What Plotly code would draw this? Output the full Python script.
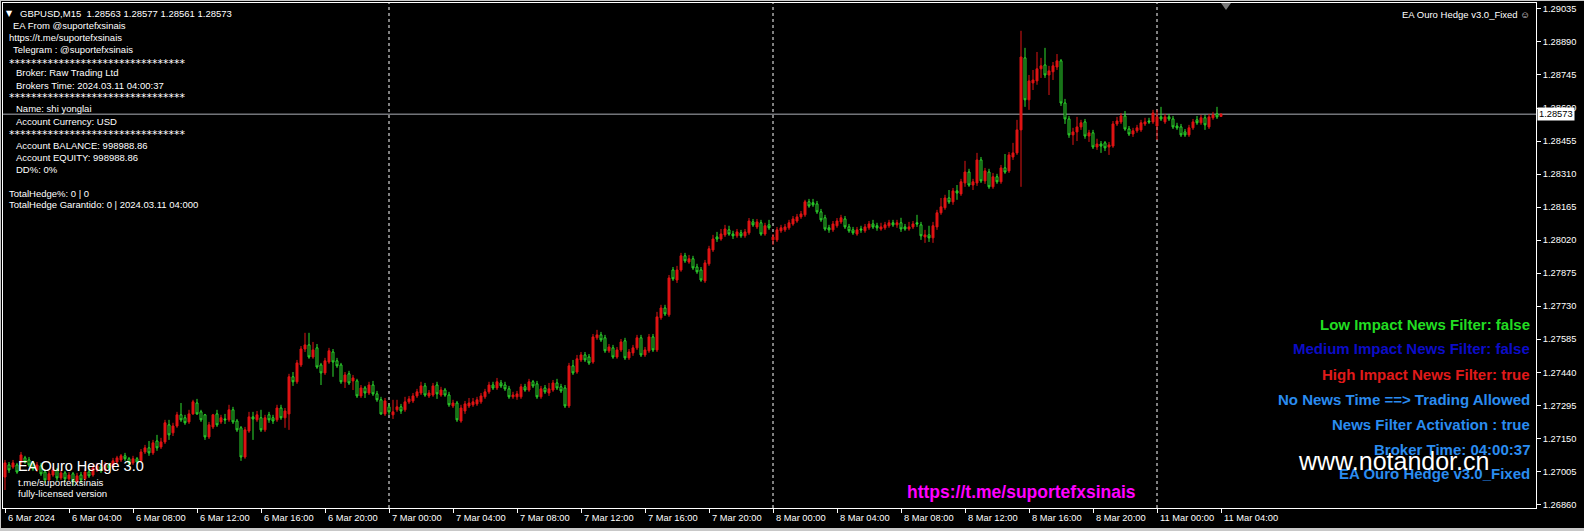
import plotly.graph_objects as go

# ---------------- data (GBPUSD M15) ----------------
opens = [
1.26980,1.27033,1.27024,1.27033,1.27046,1.27064,1.27055,1.27042,1.27011,1.27029,
1.27002,1.26967,1.26989,1.27011,1.26976,1.26998,1.26972,1.26994,1.26959,1.26989,
1.26972,1.27002,1.26989,1.27011,1.27024,1.27011,1.27033,1.27024,1.27046,1.27055,
1.27073,1.27060,1.27042,1.27060,1.27051,1.27090,1.27108,1.27086,1.27138,1.27112,
1.27134,1.27209,1.27174,1.27204,1.27253,1.27240,1.27222,1.27257,1.27305,1.27266,
1.27253,1.27156,1.27200,1.27257,1.27222,1.27235,1.27231,1.27275,1.27226,1.27196,
1.27068,1.27182,1.27244,1.27231,1.27240,1.27187,1.27253,1.27240,1.27231,1.27283,
1.27240,1.27257,1.27420,1.27398,1.27472,1.27542,1.27560,1.27507,1.27547,1.27472,
1.27437,1.27485,1.27529,1.27490,1.27472,1.27398,1.27433,1.27402,1.27402,1.27336,
1.27371,1.27349,1.27384,1.27345,1.27319,1.27257,1.27288,1.27253,1.27275,1.27288,
1.27275,1.27310,1.27314,1.27336,1.27349,1.27380,1.27336,1.27340,1.27384,1.27340,
1.27362,1.27340,1.27292,1.27305,1.27226,1.27270,1.27292,1.27297,1.27301,1.27310,
1.27332,1.27354,1.27384,1.27371,1.27393,1.27384,1.27367,1.27332,1.27332,1.27332,
1.27376,1.27362,1.27398,1.27389,1.27332,1.27371,1.27349,1.27362,1.27393,1.27376,
1.27371,1.27292,1.27468,1.27441,1.27494,1.27516,1.27507,1.27485,1.27591,1.27604,
1.27591,1.27534,1.27547,1.27507,1.27538,1.27578,1.27503,1.27525,1.27547,1.27591,
1.27516,1.27534,1.27595,1.27538,1.27679,1.27722,1.27692,1.27889,1.27845,1.27889,
1.27951,1.27924,1.27938,1.27902,1.27889,1.27841,1.27916,1.27977,1.28034,1.28025,
1.28043,1.28065,1.28047,1.28039,1.28052,1.28039,1.28052,1.28100,1.28078,1.28096,
1.28047,1.28087,1.28021,1.28021,1.28061,1.28065,1.28074,1.28091,1.28104,1.28122,
1.28131,1.28188,1.28184,1.28179,1.28144,1.28118,1.28074,1.28065,1.28083,1.28100,
1.28113,1.28078,1.28065,1.28047,1.28069,1.28061,1.28074,1.28091,1.28083,1.28069,
1.28074,1.28083,1.28096,1.28087,1.28096,1.28078,1.28069,1.28078,1.28096,1.28087,
1.28034,1.28043,1.28030,1.28078,1.28140,1.28162,1.28205,1.28188,1.28236,1.28223,
1.28271,1.28319,1.28262,1.28271,1.28372,1.28280,1.28319,1.28254,1.28298,1.28276,
1.28337,1.28324,1.28385,1.28403,1.28504,1.28820,1.28636,1.28710,1.28719,1.28772,
1.28789,1.28745,1.28759,1.28780,1.28807,1.28622,1.28552,1.28482,1.28495,1.28517,
1.28539,1.28477,1.28491,1.28429,1.28442,1.28447,1.28429,1.28433,1.28530,1.28539,
1.28565,1.28508,1.28486,1.28500,1.28504,1.28530,1.28543,1.28539,1.28521,1.28561,
1.28539,1.28561,1.28552,1.28521,1.28517,1.28495,1.28482,1.28513,1.28548,1.28535,
1.28557,1.28517,1.28557,1.28574,1.28563,
]
highs = [
1.27055,1.27046,1.27055,1.27042,1.27090,1.27073,1.27068,1.27051,1.27046,1.27042,
1.27011,1.27007,1.27024,1.27020,1.27011,1.27007,1.27002,1.27002,1.26998,1.27002,
1.27016,1.27011,1.27033,1.27042,1.27033,1.27046,1.27042,1.27064,1.27073,1.27081,
1.27086,1.27068,1.27073,1.27068,1.27103,1.27121,1.27138,1.27143,1.27165,1.27152,
1.27231,1.27231,1.27218,1.27266,1.27305,1.27253,1.27275,1.27319,1.27323,1.27275,
1.27257,1.27222,1.27257,1.27275,1.27253,1.27257,1.27297,1.27288,1.27235,1.27204,
1.27200,1.27266,1.27266,1.27270,1.27275,1.27253,1.27266,1.27253,1.27297,1.27297,
1.27283,1.27433,1.27441,1.27494,1.27555,1.27613,1.27613,1.27573,1.27564,1.27481,
1.27503,1.27547,1.27542,1.27503,1.27481,1.27441,1.27446,1.27428,1.27411,1.27384,
1.27380,1.27398,1.27402,1.27358,1.27332,1.27327,1.27301,1.27319,1.27319,1.27301,
1.27332,1.27336,1.27349,1.27367,1.27398,1.27393,1.27362,1.27393,1.27398,1.27376,
1.27371,1.27354,1.27319,1.27314,1.27297,1.27314,1.27327,1.27327,1.27332,1.27349,
1.27367,1.27398,1.27398,1.27415,1.27406,1.27398,1.27380,1.27354,1.27358,1.27389,
1.27389,1.27411,1.27406,1.27402,1.27380,1.27384,1.27393,1.27406,1.27411,1.27389,
1.27384,1.27481,1.27494,1.27516,1.27529,1.27529,1.27520,1.27608,1.27626,1.27617,
1.27604,1.27564,1.27560,1.27551,1.27586,1.27591,1.27542,1.27560,1.27604,1.27604,
1.27551,1.27608,1.27608,1.27705,1.27736,1.27736,1.27867,1.27902,1.27907,1.27964,
1.27964,1.27955,1.27951,1.27916,1.27902,1.27933,1.27995,1.28043,1.28056,1.28069,
1.28087,1.28083,1.28061,1.28069,1.28065,1.28069,1.28117,1.28113,1.28113,1.28109,
1.28096,1.28109,1.28047,1.28078,1.28087,1.28091,1.28109,1.28126,1.28135,1.28148,
1.28197,1.28201,1.28201,1.28192,1.28157,1.28131,1.28087,1.28104,1.28117,1.28131,
1.28126,1.28091,1.28078,1.28078,1.28083,1.28091,1.28104,1.28109,1.28096,1.28096,
1.28100,1.28109,1.28109,1.28109,1.28118,1.28091,1.28100,1.28104,1.28131,1.28100,
1.28065,1.28083,1.28100,1.28153,1.28205,1.28219,1.28240,1.28249,1.28262,1.28289,
1.28368,1.28333,1.28289,1.28403,1.28385,1.28337,1.28333,1.28315,1.28311,1.28350,
1.28398,1.28407,1.28447,1.28548,1.28939,1.28864,1.28745,1.28767,1.28846,1.28820,
1.28864,1.28785,1.28802,1.28837,1.28815,1.28640,1.28565,1.28513,1.28561,1.28548,
1.28552,1.28504,1.28504,1.28465,1.28455,1.28455,1.28451,1.28543,1.28561,1.28578,
1.28587,1.28521,1.28513,1.28526,1.28548,1.28557,1.28557,1.28592,1.28592,1.28605,
1.28574,1.28574,1.28565,1.28535,1.28530,1.28508,1.28526,1.28552,1.28565,1.28570,
1.28570,1.28574,1.28583,1.28605,1.28577,
]
lows = [
1.26923,1.26998,1.27016,1.26994,1.27033,1.27038,1.27024,1.27007,1.27002,1.26985,
1.26954,1.26959,1.26981,1.26963,1.26967,1.26959,1.26963,1.26941,1.26950,1.26954,
1.26963,1.26976,1.26981,1.27002,1.26998,1.27002,1.27011,1.27016,1.27038,1.27046,
1.27051,1.27033,1.27033,1.27038,1.27042,1.27081,1.27073,1.27077,1.27095,1.27103,
1.27125,1.27143,1.27160,1.27196,1.27222,1.27209,1.27213,1.27253,1.27253,1.27222,
1.27143,1.27147,1.27191,1.27200,1.27213,1.27213,1.27222,1.27213,1.27178,1.27051,
1.27060,1.27174,1.27143,1.27222,1.27178,1.27178,1.27218,1.27213,1.27222,1.27231,
1.27196,1.27187,1.27380,1.27389,1.27463,1.27529,1.27499,1.27499,1.27455,1.27384,
1.27428,1.27477,1.27420,1.27459,1.27389,1.27371,1.27384,1.27362,1.27327,1.27327,
1.27327,1.27340,1.27336,1.27310,1.27253,1.27248,1.27253,1.27235,1.27266,1.27257,
1.27266,1.27301,1.27305,1.27327,1.27340,1.27332,1.27327,1.27332,1.27323,1.27332,
1.27332,1.27288,1.27283,1.27222,1.27218,1.27257,1.27283,1.27288,1.27292,1.27301,
1.27323,1.27345,1.27362,1.27362,1.27371,1.27358,1.27323,1.27323,1.27319,1.27323,
1.27354,1.27354,1.27371,1.27323,1.27323,1.27345,1.27336,1.27354,1.27362,1.27349,
1.27283,1.27283,1.27428,1.27433,1.27485,1.27485,1.27472,1.27477,1.27582,1.27573,
1.27525,1.27525,1.27499,1.27499,1.27529,1.27494,1.27494,1.27512,1.27538,1.27507,
1.27507,1.27525,1.27529,1.27529,1.27670,1.27687,1.27683,1.27841,1.27832,1.27881,
1.27920,1.27916,1.27889,1.27872,1.27837,1.27832,1.27907,1.27968,1.28012,1.28017,
1.28034,1.28039,1.28025,1.28030,1.28030,1.28030,1.28043,1.28078,1.28069,1.28039,
1.28039,1.28065,1.27999,1.28012,1.28052,1.28056,1.28065,1.28083,1.28096,1.28113,
1.28122,1.28162,1.28166,1.28135,1.28100,1.28061,1.28052,1.28056,1.28074,1.28091,
1.28069,1.28052,1.28043,1.28039,1.28052,1.28052,1.28065,1.28069,1.28061,1.28061,
1.28065,1.28074,1.28078,1.28074,1.28056,1.28061,1.28061,1.28069,1.28078,1.28021,
1.28008,1.28012,1.28008,1.28065,1.28131,1.28153,1.28179,1.28175,1.28197,1.28214,
1.28254,1.28254,1.28240,1.28258,1.28271,1.28267,1.28245,1.28245,1.28267,1.28267,
1.28311,1.28315,1.28372,1.28394,1.28254,1.28605,1.28592,1.28679,1.28702,1.28732,
1.28732,1.28657,1.28723,1.28767,1.28609,1.28530,1.28469,1.28438,1.28455,1.28504,
1.28465,1.28451,1.28420,1.28416,1.28403,1.28411,1.28394,1.28425,1.28521,1.28530,
1.28500,1.28477,1.28473,1.28491,1.28495,1.28521,1.28530,1.28530,1.28460,1.28543,
1.28530,1.28543,1.28508,1.28504,1.28473,1.28473,1.28473,1.28504,1.28526,1.28526,
1.28504,1.28508,1.28548,1.28552,1.28561,
]
closes = [
1.27042,1.27011,1.27042,1.27002,1.27077,1.27046,1.27033,1.27016,1.27033,1.26994,
1.26967,1.26994,1.27011,1.26976,1.26998,1.26972,1.26989,1.26959,1.26985,1.26967,
1.27002,1.26985,1.27020,1.27029,1.27007,1.27033,1.27020,1.27051,1.27064,1.27073,
1.27060,1.27042,1.27060,1.27046,1.27090,1.27108,1.27086,1.27130,1.27108,1.27134,
1.27218,1.27165,1.27204,1.27253,1.27231,1.27218,1.27257,1.27310,1.27257,1.27231,
1.27156,1.27209,1.27253,1.27209,1.27240,1.27231,1.27275,1.27222,1.27187,1.27068,
1.27187,1.27244,1.27235,1.27253,1.27187,1.27240,1.27231,1.27226,1.27283,1.27240,
1.27270,1.27420,1.27398,1.27481,1.27542,1.27560,1.27507,1.27538,1.27463,1.27437,
1.27490,1.27534,1.27485,1.27468,1.27398,1.27428,1.27393,1.27415,1.27336,1.27371,
1.27349,1.27384,1.27345,1.27319,1.27257,1.27314,1.27266,1.27266,1.27288,1.27270,
1.27310,1.27323,1.27336,1.27354,1.27380,1.27340,1.27349,1.27380,1.27345,1.27362,
1.27340,1.27297,1.27305,1.27231,1.27283,1.27301,1.27305,1.27310,1.27319,1.27336,
1.27354,1.27384,1.27371,1.27398,1.27380,1.27367,1.27332,1.27340,1.27345,1.27376,
1.27362,1.27398,1.27380,1.27332,1.27367,1.27354,1.27367,1.27393,1.27371,1.27358,
1.27292,1.27468,1.27437,1.27499,1.27516,1.27494,1.27481,1.27595,1.27604,1.27582,
1.27534,1.27551,1.27507,1.27538,1.27573,1.27503,1.27529,1.27547,1.27591,1.27516,
1.27538,1.27595,1.27538,1.27683,1.27722,1.27696,1.27854,1.27850,1.27889,1.27951,
1.27929,1.27938,1.27898,1.27881,1.27845,1.27920,1.27982,1.28025,1.28025,1.28047,
1.28069,1.28047,1.28039,1.28056,1.28039,1.28056,1.28104,1.28087,1.28100,1.28047,
1.28083,1.28074,1.28034,1.28065,1.28074,1.28078,1.28096,1.28113,1.28122,1.28135,
1.28188,1.28170,1.28175,1.28144,1.28109,1.28069,1.28065,1.28091,1.28104,1.28118,
1.28078,1.28061,1.28052,1.28065,1.28065,1.28078,1.28091,1.28078,1.28074,1.28078,
1.28087,1.28096,1.28087,1.28096,1.28069,1.28069,1.28078,1.28091,1.28091,1.28039,
1.28043,1.28030,1.28083,1.28140,1.28166,1.28205,1.28188,1.28236,1.28227,1.28276,
1.28319,1.28262,1.28276,1.28372,1.28280,1.28324,1.28254,1.28298,1.28276,1.28337,
1.28319,1.28394,1.28403,1.28504,1.28824,1.28636,1.28719,1.28723,1.28772,1.28785,
1.28745,1.28763,1.28785,1.28807,1.28622,1.28552,1.28482,1.28495,1.28517,1.28535,
1.28477,1.28491,1.28429,1.28442,1.28433,1.28425,1.28438,1.28530,1.28543,1.28565,
1.28508,1.28486,1.28500,1.28513,1.28535,1.28539,1.28539,1.28578,1.28561,1.28552,
1.28561,1.28552,1.28517,1.28513,1.28482,1.28482,1.28513,1.28539,1.28535,1.28557,
1.28526,1.28561,1.28570,1.28561,1.28573,
]
bars = list(range(len(closes)))

time_labels = ["6 Mar 2024", "6 Mar 04:00", "6 Mar 08:00", "6 Mar 12:00", "6 Mar 16:00",
               "6 Mar 20:00", "7 Mar 00:00", "7 Mar 04:00", "7 Mar 08:00", "7 Mar 12:00",
               "7 Mar 16:00", "7 Mar 20:00", "8 Mar 00:00", "8 Mar 04:00", "8 Mar 08:00",
               "8 Mar 12:00", "8 Mar 16:00", "8 Mar 20:00", "11 Mar 00:00", "11 Mar 04:00"]
time_label_bars = [0, 16, 32, 48, 64, 80, 96, 112, 128, 144, 160, 176, 192, 208, 224,
                   240, 256, 272, 288, 304]
day_break_bars = [96, 192, 288]
price_ticks = [1.26860, 1.27005, 1.27150, 1.27295, 1.27440, 1.27585, 1.27730, 1.27875,
               1.28020, 1.28165, 1.28310, 1.28455, 1.28600, 1.28745, 1.28890, 1.29035]
last_price = 1.28573
header = "GBPUSD,M15  1.28563 1.28577 1.28561 1.28573"

# ---------------- layout geometry ----------------
W, H = 1584, 531
PL, PR, PT, PB = 3, 1536, 3, 508
Y_TOP, Y_BOT = 1.29061, 1.26844
X_LEFT, X_RIGHT = -0.5, 382.75

def px(x):
    return (x - PL) / (PR - PL)

def py(y):
    return (PB - y) / (PB - PT)

RED = "#e01414"
GREEN = "#2edc2e"
FONT = "Liberation Sans"

fig = go.Figure()
fig.add_trace(go.Candlestick(
    x=bars, open=opens, high=highs, low=lows, close=closes,
    increasing=dict(line=dict(color=RED, width=1), fillcolor=RED),
    decreasing=dict(line=dict(color=GREEN, width=1), fillcolor="black"),
    whiskerwidth=0, showlegend=False, hoverinfo="skip",
))

shapes = []
for b in day_break_bars:
    shapes.append(dict(type="line", xref="x", yref="paper", x0=b, x1=b, y0=0, y1=1,
                       line=dict(color="white", width=1, dash="3px,3px"), layer="below"))
shapes.append(dict(type="line", xref="paper", yref="y", x0=0, x1=1, y0=last_price, y1=last_price,
                   line=dict(color="#aeb0b8", width=1), layer="below"))
# MT4 chart-shift marker
shapes.append(dict(type="path", xref="x", yref="paper",
                   path=f"M 304,{py(3)} L 306.5,{py(3)} L 305.25,{py(10)} Z",
                   fillcolor="#7a7a7a", line=dict(width=0)))
# window frame
shapes.append(dict(type="rect", xref="paper", yref="paper", x0=px(0), x1=px(W), y0=py(H), y1=py(528),
                   fillcolor="#c8c8c8", line=dict(width=0)))
shapes.append(dict(type="line", xref="paper", yref="paper", x0=px(0), x1=px(W), y0=py(0.5), y1=py(0.5),
                   line=dict(color="#c8c8c8", width=1)))
shapes.append(dict(type="line", xref="paper", yref="paper", x0=px(0.5), x1=px(0.5), y0=py(0), y1=py(H),
                   line=dict(color="#c8c8c8", width=1)))

ann = []

def text(t, x, y, size=9.5, color="white", anchor="left", family=FONT, bold=False, xref="paper"):
    if bold:
        t = f"<b>{t}</b>"
    ann.append(dict(text=t, x=px(x) if xref == "paper" else x, y=py(y), xref=xref, yref="paper",
                    xanchor=anchor, yanchor="middle", showarrow=False, borderpad=0,
                    font=dict(family=family, size=size, color=color)))

stars = "*" * 32
text("▼", 5, 13, size=8, family="DejaVu Sans")
text(header, 19, 13)
info_lines = [
    ("EA From @suportefxsinais", 11.5, 25.7),
    ("https://t.me/suportefxsinais", 8, 37.7),
    ("Telegram : @suportefxsinais", 11.5, 50),
    ("Broker: Raw Trading Ltd", 14.5, 72.7),
    ("Brokers Time: 2024.03.11 04:00:37", 14.5, 85.3),
    ("Name: shi yonglai", 14.5, 109),
    ("Account Currency: USD", 14.5, 121.7),
    ("Account BALANCE: 998988.86", 14.5, 145.7),
    ("Account EQUITY: 998988.86", 14.5, 157.3),
    ("DD%: 0%", 14.5, 170),
    ("TotalHedge%: 0 | 0", 8, 193.3),
    ("TotalHedge Garantido: 0 | 2024.03.11 04:000", 8, 204.7),
]
for t, x, y in info_lines:
    text(t, x, y)
for y in (63, 98, 134):
    text(stars, 8, y, size=11, family="DejaVu Sans")

text("EA Ouro Hedge v3.0_Fixed ☺", 1531, 14, size=9.5, anchor="right")

news_lines = [
    ("Low Impact News Filter: false", "#22dd22", 324),
    ("Medium Impact News Filter: false", "#0c0cc8", 349),
    ("High Impact News Filter: true", "#e01a1a", 374),
    ("No News Time ==> Trading Allowed", "#2a8cf0", 399),
    ("News Filter Activation : true", "#2a8cf0", 424),
    ("Broker Time: 04:00:37", "#2a8cf0", 449),
    ("EA Ouro Hedge v3.0_Fixed", "#2a8cf0", 474),
]
for t, c, y in news_lines:
    text(t, 1531, y, size=15, color=c, anchor="right", bold=True)

text("www.notandor.cn", 1297, 461, size=25)
text("https://t.me/suportefxsinais", 1021, 492, size=17.5, color="#ff00ff", anchor="center", bold=True)
text("EA Ouro Hedge 3.0", 17, 466, size=14.5)
text("t.me/suportefxsinais", 17, 482, size=9.6)
text("fully-licensed version", 17, 493, size=9.6)

for lbl, b in zip(time_labels, time_label_bars):
    text(lbl, b + 0.4, 518, size=9.3, xref="x")

# current price tag on the price scale
ann.append(dict(text=f"{last_price:.5f}", x=px(1537), y=last_price, xref="paper", yref="y",
                xanchor="left", yanchor="middle", showarrow=False, bgcolor="white",
                borderpad=1, font=dict(family=FONT, size=9.3, color="black")))

fig.update_layout(
    width=W, height=H, autosize=False,
    margin=dict(l=PL, r=W - PR, t=PT, b=H - PB, pad=0),
    paper_bgcolor="black", plot_bgcolor="black",
    shapes=shapes, annotations=ann, hovermode=False, showlegend=False,
    xaxis=dict(range=[X_LEFT, X_RIGHT], type="linear", showgrid=False, zeroline=False,
               rangeslider=dict(visible=False), tickvals=time_label_bars, showticklabels=False,
               ticks="outside", ticklen=4, tickcolor="white", showline=True, linecolor="white",
               linewidth=1, mirror=True),
    yaxis=dict(range=[Y_BOT, Y_TOP], side="right", showgrid=False, zeroline=False,
               tickvals=price_ticks, ticktext=[f"{v:.5f}" for v in price_ticks],
               ticks="outside", ticklen=4, tickcolor="white",
               tickfont=dict(family=FONT, size=9.3, color="white"),
               showline=True, linecolor="white", linewidth=1, mirror=True),
)

fig.write_html("out.html", config={"displayModeBar": False},
               post_script="document.body.style.margin='0';")
